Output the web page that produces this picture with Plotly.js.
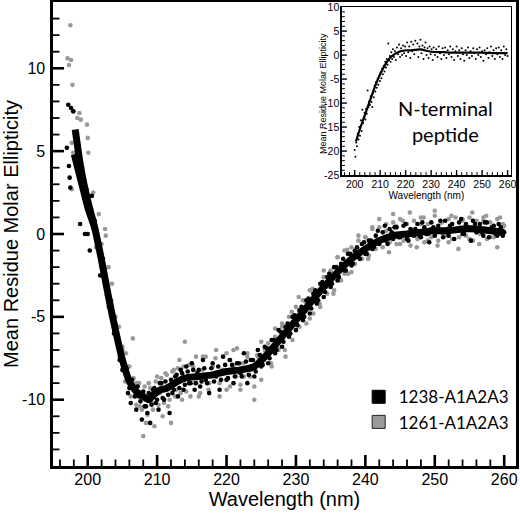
<!DOCTYPE html>
<html>
<head>
<meta charset="utf-8">
<script src="https://cdn.plot.ly/plotly-3.0.1.min.js"></script>
<style>html,body{margin:0;padding:0;background:#fff}#chart{width:520px;height:518px}</style>
</head>
<body>
<div id="chart"></div>
<script>
// ---- main panel: series 1238-A1A2A3 (black dots) ----
const wl1238 = [197.0,197.2,197.3,197.4,197.5,197.6,197.9,198.3,198.6,198.9,199.2,199.6,200.0,200.3,200.6,201.0,201.4,201.8,202.2,202.6,203.0,203.4,203.8,204.2,204.6,205.0,205.4,205.8,206.2,206.6,207.0,207.4,207.8,208.2,208.6,209.0,209.4,209.8,210.2,210.6,211.0,211.4,211.8,212.2,212.6,213.0,213.4,213.8,214.2,214.6,215.0,215.4,215.8,216.2,216.6,217.0,217.5,218.0,218.5,219.0,219.5,220.0,220.5,221.0,221.5,222.0,222.5,223.0,223.5,224.0,224.5,225.0,225.5,226.0,226.5,227.0,227.5,228.0,228.5,229.0,229.5,230.0,230.5,231.0,231.5,232.0,232.5,233.0,233.5,234.0,234.5,235.0,235.5,236.0,236.5,237.0,237.5,238.0,238.5,239.0,239.5,240.0,240.5,241.0,241.5,242.0,242.5,243.0,243.5,244.0,244.5,245.0,245.5,246.0,246.5,247.0,247.5,248.0,248.5,249.0,249.5,250.0,250.5,251.0,251.5,252.0,252.5,253.0,253.5,254.0,254.5,255.0,255.5,256.0,256.5,257.0,257.5,258.0,258.5,259.0,259.5,260.0,
 198.4,198.8,199.4,199.8,200.4,200.8,201.2,201.6,202.0,202.4,202.8,203.2,203.6,204.0,204.4,204.8,205.2,205.6,206.0,206.4,206.8,207.2,207.6,208.0,208.4,208.8,209.2,209.6,210.0,210.4,210.8,211.2,211.6,212.0,212.4,212.8,213.2,213.6,214.0,214.4,214.8,215.2,215.6,216.0,216.4,216.8,217.2,217.8,218.2,218.8,219.2,219.8,220.2,220.8,221.2,221.8,222.2,222.8,223.2,223.8,224.2,224.8,225.2,225.8,226.2,226.8,227.2,227.8,228.2,228.8,229.2,229.8,230.2,230.8,231.2,231.8,232.2,232.8,233.2,233.8,234.2,234.8,235.2,235.8,236.2,236.8,237.2,237.8,238.2,238.8,239.2,239.8,240.2,240.8,241.2,241.8,242.2,242.8,243.2,243.8,244.2,244.8,245.2,245.8,246.2,246.8,247.2,247.8,248.2,248.8,249.2,249.8,250.2,250.8,251.2,251.8,252.2,252.8,253.2,253.8,254.2,254.8,255.2,255.8,256.2,256.8,257.2,257.8,258.2,258.8,259.2,259.8];
const mre1238 = [5.2,7.8,4.1,3.4,2.8,7.6,7.4,6.0,5.5,0.6,4.0,0.0,0.0,-1.0,2.3,0.8,-0.2,-2.5,-1.5,-2.8,-3.5,-4.8,-6.0,-6.2,-7.6,-8.2,-8.0,-9.6,-10.2,-9.2,-10.6,-9.8,-11.2,-10.4,-10.8,-11.4,-9.4,-10.2,-10.6,-9.0,-10.0,-9.2,-10.8,-9.6,-8.6,-9.8,-8.2,-9.4,-8.0,-9.0,-7.8,-9.4,-8.4,-9.2,-7.6,-8.8,-9.6,-7.8,-8.6,-9.4,-7.4,-8.8,-7.6,-9.0,-7.8,-8.4,-7.2,-9.0,-7.6,-8.6,-7.0,-8.0,-6.8,-7.8,-6.4,-7.2,-5.8,-6.8,-5.6,-6.2,-5.0,-5.8,-4.6,-5.2,-4.0,-4.8,-3.6,-4.2,-3.0,-3.8,-2.6,-3.2,-2.0,-2.8,-1.8,-2.2,-1.2,-1.9,-1.0,-1.4,-0.6,-1.2,-0.4,-0.9,-0.1,-0.6,0.1,-0.4,0.3,-0.3,0.4,-0.2,0.5,-0.3,0.3,-0.1,0.6,-0.2,0.4,0.0,0.7,-0.1,0.5,0.1,0.8,-0.1,0.6,0.2,0.7,0.0,0.6,0.3,0.8,0.1,0.6,-0.1,0.7,0.2,0.5,-0.1,0.4,0.1,
 5.4,4.9,3.0,2.7,1.1,0.9,-0.3,-0.5,-1.9,-2.2,-3.7,-4.0,-5.3,-5.5,-6.8,-7.0,-8.2,-8.1,-9.3,-8.8,-9.8,-9.2,-10.1,-9.5,-10.4,-9.6,-10.3,-9.3,-10.0,-9.0,-9.9,-8.9,-9.7,-8.8,-9.4,-8.5,-9.3,-8.4,-9.1,-8.3,-9.0,-8.2,-9.0,-8.2,-8.9,-8.1,-9.0,-8.1,-8.9,-8.0,-8.8,-7.9,-8.7,-7.9,-8.6,-7.8,-8.6,-7.7,-8.5,-7.6,-8.3,-7.3,-7.9,-6.9,-7.5,-6.4,-7.0,-5.9,-6.5,-5.4,-6.0,-4.9,-5.5,-4.4,-5.0,-3.9,-4.5,-3.4,-4.0,-2.9,-3.5,-2.4,-3.0,-2.0,-2.6,-1.5,-2.2,-1.2,-1.8,-0.8,-1.5,-0.5,
 -1.2,-0.4,-0.8,0.2,-0.3,0.5,-0.6,0.1,0.4,-0.2,0.0,0.6,-0.4,0.2,0.3,-0.1,0.7,0.0,-0.5,0.4,0.1,0.8,-0.2,0.3,0.5,-0.3,0.2,0.9,0.0,0.4,-0.4,0.6,0.2,0.1,0.7,-0.2,0.4,0.0,0.6,-0.1];

// ---- main panel: series 1261-A1A2A3 (grey dots) ----
const wl1261 = [197.1,197.3,197.5,197.6,197.7,197.7,197.8,197.9,198.0,198.5,198.8,199.0,199.3,199.9,200.0,200.1,200.5,200.8,201.2,201.6,202.0,202.5,202.6,203.0,203.5,204.0,204.5,205.0,205.5,206.0,206.5,207.0,207.5,208.0,208.4,208.8,209.2,209.6,210.0,210.4,210.8,211.2,211.6,212.0,212.4,212.8,213.2,213.6,214.0,214.4,214.8,215.2,215.6,216.0,216.5,217.0,217.5,218.0,218.5,219.0,219.5,220.0,220.5,221.0,221.5,222.0,222.5,223.0,223.5,224.0,224.5,225.0,225.5,226.0,226.5,227.0,227.5,228.0,228.5,229.0,229.5,230.0,230.5,231.0,231.5,232.0,232.5,233.0,233.5,234.0,234.5,235.0,235.5,236.0,236.5,237.0,237.5,238.0,238.5,239.0,239.5,240.0,240.5,241.0,241.5,242.0,242.5,243.0,243.5,244.0,244.5,245.0,245.5,246.0,246.5,247.0,247.5,248.0,248.5,249.0,249.5,250.0,250.5,251.0,251.5,252.0,252.5,253.0,253.5,254.0,254.5,255.0,255.5,256.0,256.5,257.0,257.5,258.0,258.5,259.0,259.5,260.0,
 198.6,199.2,199.6,200.2,200.6,201.0,201.4,201.8,202.2,202.6,203.0,203.4,203.8,204.2,204.6,205.0,205.4,205.8,206.2,206.6,207.0,207.4,207.8,208.2,208.6,209.0,209.4,209.8,210.2,210.6,211.0,211.4,211.8,212.2,212.6,213.0,213.4,213.8,214.2,214.6,215.0,215.4,215.8,216.2,216.6,217.0,217.4,218.0,218.4,219.0,219.4,220.0,220.4,221.0,221.4,222.0,222.4,223.0,223.4,224.0,224.4,225.0,225.4,226.0,226.4,227.0,227.4,228.0,228.4,229.0,229.4,230.0,230.4,231.0,231.4,232.0,232.4,233.0,233.4,234.0,234.4,235.0,235.4,236.0,236.4,237.0,237.4,238.0,238.4,239.0,239.4,240.0,240.4,241.0,241.4,242.0,242.4,243.0,243.4,244.0,244.4,245.0,245.4,246.0,246.4,247.0,247.4,248.0,248.4,249.0,249.4,250.0,250.4,251.0,251.4,252.0,252.4,253.0,253.4,254.0,254.4,255.0,255.4,256.0,256.4,257.0,257.4,258.0,258.4,259.0,259.4,259.8];
const mre1261 = [10.6,10.2,12.6,10.5,2.7,5.5,9.0,4.9,7.4,7.0,7.3,6.9,3.0,6.6,5.8,4.9,1.5,2.5,-0.8,1.2,-0.6,0.3,-0.1,-2.0,-3.0,-5.0,-5.6,-6.8,-7.2,-8.0,-6.3,-9.0,-10.4,-12.2,-11.4,-9.0,-10.2,-11.6,-8.6,-9.6,-11.0,-8.4,-10.4,-11.4,-8.2,-9.4,-7.6,-10.0,-6.5,-8.6,-9.8,-8.0,-7.4,-9.8,-8.2,-7.4,-9.0,-8.0,-7.0,-9.8,-8.4,-7.2,-9.2,-8.0,-6.9,-9.4,-8.6,-7.4,-8.2,-10.0,-7.4,-8.8,-7.0,-6.6,-8.0,-6.2,-7.0,-5.4,-7.4,-5.0,-6.4,-4.4,-5.6,-4.0,-5.4,-3.4,-4.8,-3.6,-4.4,-2.6,-3.6,-2.2,-3.4,-1.4,-2.8,-1.0,-2.4,-0.8,-1.8,-0.4,-1.5,-0.2,-1.3,0.3,-0.9,0.4,-0.8,0.6,-0.5,0.7,-0.6,0.9,-0.4,0.6,-0.7,0.8,-0.3,1.0,-0.5,0.6,-0.2,1.1,-0.4,0.7,-0.1,0.9,-0.3,1.0,-0.2,0.8,-0.1,1.0,-0.4,0.8,0.0,1.0,-0.3,0.7,-0.2,0.9,0.0,0.5,
 4.6,3.8,2.2,1.9,0.8,0.6,-0.9,-1.0,-2.3,-2.6,-4.4,-4.0,-6.0,-5.6,-7.4,-7.0,-8.9,-8.0,-9.8,-8.7,-10.3,-9.0,-10.6,-9.2,-10.9,-9.3,-10.6,-8.9,-10.3,-8.7,-10.2,-8.5,-10.0,-8.3,-9.8,-8.1,-9.6,-8.0,-9.5,-7.9,
 -7.8,-9.0,-8.3,-9.6,-7.4,-8.8,-9.4,-8.0,-7.5,-9.0,-8.2,-9.4,-7.6,-7.0,-8.6,-9.1,-7.8,-7.2,-8.6,-9.2,-7.3,-6.5,-7.6,-6.9,-7.8,-5.7,-6.9,-5.6,-7.0,-5.5,-4.7,-5.8,-3.8,-5.0,-4.1,-5.1,-3.3,-3.6,-4.2,-2.2,-3.2,-2.25,-3.6,-1.4,-1.95,-2.4,-0.95,-2.3,-1.1,-0.1,-1.5,
 -0.2,-1.5,0.4,-0.9,0.9,-0.3,0.2,-1.1,1.2,0.5,-0.6,0.8,-0.2,1.3,0.1,-0.8,0.6,1.0,-0.4,0.3,1.4,-0.7,0.7,0.0,-0.5,1.1,0.3,-0.9,0.9,0.5,-0.3,1.3,0.2,-0.6,0.8,1.1,-0.2,0.4,-0.8,1.0,0.6];

// ---- main panel: smoothed curves ----
const wlFitA = [198.2,199,200,201,202,203,204,205,206,207,208,208.8,209.5,210.5,211.5,212.5,214,216,218,220,222,224,226,228,230,232,234,236,238,240,242,244,246,248,250,252,254,256,258,260];
const mreFitA = [6.3,4.0,2.0,0.4,-1.6,-3.8,-5.8,-7.6,-8.9,-9.5,-9.8,-10.0,-9.7,-9.4,-9.3,-9.0,-8.7,-8.6,-8.5,-8.3,-8.2,-8.0,-7.2,-6.2,-5.2,-4.2,-3.2,-2.3,-1.5,-0.9,-0.4,-0.1,0.0,0.1,0.2,0.2,0.3,0.3,0.2,0.1];
const wlFitB = [198.0,199.0,200.0,201.0];
const mreFitB = [4.8,3.1,1.5,0.3];

// ---- inset: N-terminal peptide ----
const wlPep = [200.0,200.3,200.6,200.9,201.2,201.5,201.8,202.1,202.4,202.7,203.0,203.3,203.6,203.9,204.2,204.5,204.8,205.1,205.4,205.7,206.0,206.3,206.6,206.9,207.2,207.5,207.8,208.1,208.4,208.7,209.0,209.3,209.6,209.9,210.2,210.5,210.8,211.1,211.4,211.7,212.0,212.3,212.6,212.9,213.2,213.5,213.8,214.1,214.4,214.7,215.0,215.4,215.8,216.2,216.6,217.0,217.4,217.8,218.2,218.6,219.0,219.4,219.8,220.2,220.6,221.0,221.4,221.8,222.2,222.6,223.0,223.4,223.8,224.2,224.6,225.0,225.4,225.8,226.2,226.6,227.0,227.4,227.8,228.2,228.6,229.0,229.4,229.8,230.2,230.6,231.0,231.5,232.0,232.5,233.0,233.5,234.0,234.5,235.0,235.5,236.0,236.5,237.0,237.5,238.0,238.5,239.0,239.5,240.0,240.5,241.0,241.5,242.0,242.5,243.0,243.5,244.0,244.5,245.0,245.5,246.0,246.5,247.0,247.5,248.0,248.5,249.0,249.5,250.0,250.5,251.0,251.5,252.0,252.5,253.0,253.5,254.0,254.5,255.0,255.5,256.0,256.5,257.0,257.5,258.0,258.5,259.0,259.5,260.0];
const mrePep = [-19.8,-21.2,-18.2,-19.0,-16.4,-17.6,-15.0,-16.8,-13.6,-15.8,-11.4,-14.2,-13.0,-12.0,-13.4,-11.2,-12.2,-7.4,-10.8,-9.6,-10.4,-8.6,-9.8,-10.8,-7.8,-8.8,-6.4,-7.6,-5.6,-6.8,-5.0,-6.2,-4.4,-5.4,-3.6,-4.8,-2.8,-4.0,-2.2,-3.4,-1.4,-2.6,-0.8,-2.0,2.4,-1.0,-0.2,-1.4,0.6,-0.8,1.2,-0.4,0.8,-1.0,1.6,0.2,2.2,-0.4,1.4,0.0,2.0,0.4,1.8,-0.2,2.6,0.6,1.8,-0.6,2.8,0.8,2.2,0.2,3.0,1.0,2.4,-0.4,1.8,3.2,0.4,2.0,-0.8,1.6,2.6,0.0,1.4,-0.6,1.8,0.2,1.2,-1.0,1.6,0.0,1.2,-0.4,1.8,0.4,-0.8,1.4,0.0,1.6,-0.6,1.0,0.2,1.8,-0.4,1.2,-1.0,0.8,1.8,-0.2,1.0,-0.8,1.4,0.2,-1.2,1.0,0.0,1.6,-0.6,0.8,-0.2,1.4,0.4,-0.8,1.2,0.0,1.6,-0.4,0.8,-1.2,1.0,0.2,1.4,-0.6,0.6,1.8,-0.2,1.0,-0.8,1.4,0.2,1.6,-0.4,1.0,-0.8,1.8,0.0,1.2,-0.2];
const wlPepFit = [200.5,202,204,206,208,210,212,214,216,218,220,222,224,226,228,230,235,240,245,250,255,260];
const mrePepFit = [-18,-15.5,-12.5,-9.5,-6.5,-4,-2,-0.5,0.3,0.8,1.0,1.0,1.1,1.2,0.9,0.7,0.6,0.5,0.5,0.5,0.4,0.4];

// ---- text, tick values and tick labels ----
const seriesNames = ['1238-A1A2A3','1261-A1A2A3'];
const xTitle = 'Wavelength (nm)';
const yTitle = 'Mean Residue Molar Ellipticity';
const insetLabel = 'N-terminal<br>peptide';
const xMajorTicks = [200,210,220,230,240,250,260];
const xMinorTicks = [196,198,202,204,206,208,212,214,216,218,222,224,226,228,232,234,236,238,242,244,246,248,252,254,256,258];
const mainYTicks = [-10,-5,0,5,10];
const mainYTickText = ['-10','-5','0','5','10'];
const mainYMinor = [-13,-12,-11,-9,-8,-7,-6,-4,-3,-2,-1,1,2,3,4,6,7,8,9,11,12,13];
const insetYTicks = [-25,-20,-15,-10,-5,0,5,10];
const insetYTickText = ['-25','-20','-15','-10','-5','0','5','10'];
const insetYMinor = [-24,-23,-22,-21,-19,-18,-17,-16,-14,-13,-12,-11,-9,-8,-7,-6,-4,-3,-2,-1,1,2,3,4,6,7,8,9];

const AX = 'Liberation Sans, Arial, sans-serif';
const GILL = 'Lato, "Open Sans", sans-serif';

const traces = [
  {x: wl1261, y: mre1261, type:'scatter', mode:'markers', showlegend:false,
   marker:{color:'#999999', size:4.6}, xaxis:'x', yaxis:'y', hoverinfo:'skip'},
  {x: wl1238, y: mre1238, type:'scatter', mode:'markers', showlegend:false,
   marker:{color:'#000', size:4.6}, xaxis:'x', yaxis:'y', hoverinfo:'skip'},
  {x: wlFitA, y: mreFitA, type:'scatter', mode:'lines', showlegend:false,
   line:{color:'#000', width:7, shape:'spline', smoothing:0.6}, xaxis:'x', yaxis:'y'},
  {x: wlFitB, y: mreFitB, type:'scatter', mode:'lines', showlegend:false,
   line:{color:'#000', width:6}, xaxis:'x', yaxis:'y'},
  {x:[null], y:[null], type:'scatter', mode:'markers', name: seriesNames[0],
   marker:{symbol:'square', color:'#000', size:13, line:{color:'#000', width:1}}},
  {x:[null], y:[null], type:'scatter', mode:'markers', name: seriesNames[1],
   marker:{symbol:'square', color:'#9a9a9a', size:13, line:{color:'#222', width:1}}},
  {x: wlPep, y: mrePep, type:'scatter', mode:'markers', showlegend:false,
   marker:{color:'#000', size:2}, xaxis:'x2', yaxis:'y2'},
  {x: wlPepFit, y: mrePepFit, type:'scatter', mode:'lines', showlegend:false,
   line:{color:'#000', width:2.2, shape:'spline', smoothing:0.6}, xaxis:'x2', yaxis:'y2'}
];

// inward tick marks, drawn as pixel-sized shapes anchored on each axis
const tickShapes = [];
function xTicks(vals, xref, yref, len, w) {
  vals.forEach(v => tickShapes.push({type:'line', xref:xref, yref:yref, ysizemode:'pixel', yanchor:0,
    x0:v, x1:v, y0:0, y1:len, line:{color:'#000', width:w}, layer:'above'}));
}
function yTicks(vals, xref, yref, len, w) {
  vals.forEach(v => tickShapes.push({type:'line', xref:xref, yref:yref, xsizemode:'pixel', xanchor:0,
    y0:v, y1:v, x0:0, x1:len, line:{color:'#000', width:w}, layer:'above'}));
}
xTicks(xMajorTicks, 'x', 'y domain', 11, 2.6);
xTicks(xMinorTicks, 'x', 'y domain', 6.5, 1.8);
yTicks(mainYTicks, 'x domain', 'y', 11, 2.6);
yTicks(mainYMinor, 'x domain', 'y', 6.5, 1.8);
xTicks(xMajorTicks, 'x2', 'y2 domain', 5, 1.4);
xTicks(xMinorTicks, 'x2', 'y2 domain', 3, 1);
yTicks(insetYTicks.slice(1, -1), 'x2 domain', 'y2', 5, 1.4);
yTicks(insetYMinor, 'x2 domain', 'y2', 3, 1);

const layout = {
  width:520, height:518,
  margin:{l:53, r:4, t:2, b:52},
  paper_bgcolor:'#fff', plot_bgcolor:'#fff',
  font:{family:AX, color:'#000'},
  showlegend:true,
  legend:{x:0.995, xanchor:'right', y:0.187, yanchor:'top', bgcolor:'rgba(0,0,0,0)',
          font:{family:GILL, size:17, color:'#000'}, itemsizing:'trace'},
  xaxis:{range:[195,261.7], showgrid:false, zeroline:false,
    showline:true, linecolor:'#000', linewidth:2.6, mirror:true, ticks:'',
    tickmode:'array', tickvals:xMajorTicks,
    tickfont:{size:16, family:AX}, ticklabelstandoff:-3,
    title:{text:xTitle, font:{size:20, family:AX}, standoff:3}},
  yaxis:{range:[-14,14], showgrid:false, zeroline:false,
    showline:true, linecolor:'#000', linewidth:2.6, mirror:true, ticks:'',
    tickmode:'array', tickvals:mainYTicks, ticktext:mainYTickText,
    tickfont:{size:16, family:AX}, ticklabelstandoff:2,
    title:{text:yTitle, font:{size:20, family:AX}, standoff:11}},
  xaxis2:{domain:[0.624,0.989], anchor:'y2', range:[195,261.3], showgrid:false, zeroline:false,
    showline:true, linecolor:'#000', linewidth:1.5, mirror:true, ticks:'',
    tickmode:'array', tickvals:xMajorTicks,
    tickfont:{size:10.5, family:AX}, ticklabelstandoff:-1,
    title:{text:xTitle, font:{size:10, family:AX}, standoff:1}},
  yaxis2:{domain:[0.627,0.989], anchor:'x2', range:[-25,10], showgrid:false, zeroline:false,
    showline:true, linecolor:'#000', linewidth:1.5, mirror:true, ticks:'',
    tickmode:'array', tickvals:insetYTicks, ticktext:insetYTickText,
    tickfont:{size:10.5, family:AX}, ticklabelstandoff:-1},
  shapes: tickShapes,
  annotations:[
    {text:insetLabel, xref:'paper', yref:'paper', x:0.847, y:0.744, xanchor:'center', yanchor:'middle',
     showarrow:false, font:{family:GILL, size:20, color:'#000'}},
    {text:yTitle, xref:'paper', yref:'paper', x:(323-53)/463, y:(466-94)/464, xanchor:'center', yanchor:'middle',
     textangle:-90, showarrow:false, font:{family:AX, size:9, color:'#000'}}
  ]
};

Plotly.newPlot('chart', traces, layout, {staticPlot:true, displayModeBar:false});
</script>
</body>
</html>
